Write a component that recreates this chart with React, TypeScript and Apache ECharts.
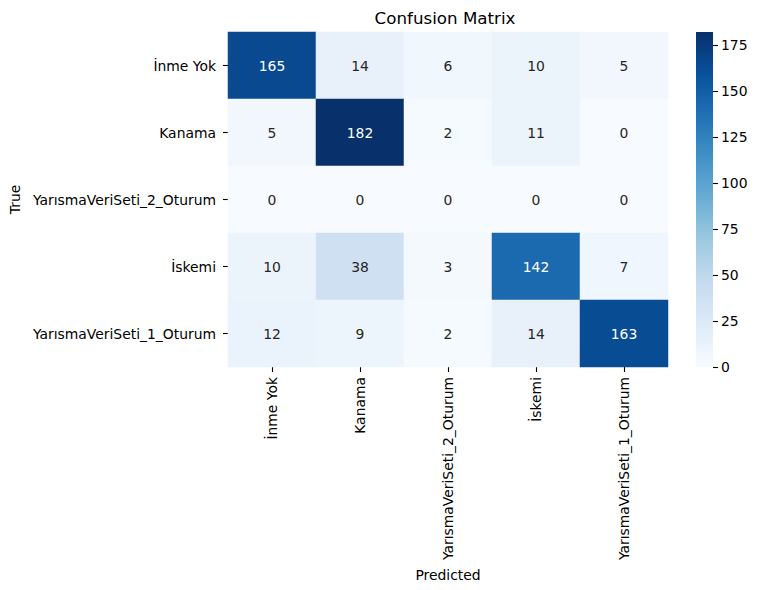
import React, { useEffect, useRef } from "react";
import * as echarts from "echarts";

const categories = ["İnme Yok", "Kanama", "YarısmaVeriSeti_2_Oturum", "İskemi", "YarısmaVeriSeti_1_Oturum"];
const matrix = [
  [165, 14, 6, 10, 5],
  [5, 182, 2, 11, 0],
  [0, 0, 0, 0, 0],
  [10, 38, 3, 142, 7],
  [12, 9, 2, 14, 163],
];
const colorbarTicks = [0, 25, 50, 75, 100, 125, 150, 175];
const vmin = 0;
const vmax = 182;
const blues = ["#f7fbff", "#deebf7", "#c6dbef", "#9ecae1", "#6baed6", "#4292c6", "#2171b5", "#08519c", "#08306b"];

const FONT = "DejaVu Sans";
const FS = 13.9;

export default function App() {
  const ref = useRef<HTMLDivElement>(null);
  useEffect(() => {
    if (!ref.current) return;
    const chart = echarts.init(ref.current, undefined, { renderer: "svg" });
    const data: any[] = [];
    matrix.forEach((row, r) => {
      row.forEach((v, c) => {
        data.push({
          value: [c, r, v],
          label: { color: v > 100 ? "#ffffff" : "#262626" },
        });
      });
    });
    chart.setOption({
      animation: false,
      textStyle: { fontFamily: FONT },
      graphic: [
        {
          type: "text",
          x: 445,
          y: 18,
          style: {
            text: "Confusion Matrix",
            fontSize: 16.7,
            fontFamily: FONT,
            fill: "#000",
            textAlign: "center",
            textVerticalAlign: "middle",
          },
        },
      ],
      grid: [
        { left: 222, top: 32, width: 446, height: 335 },
        { left: 696, top: 32, width: 17, height: 335 },
      ],
      xAxis: [
        {
          type: "category",
          gridIndex: 0,
          data: categories,
          position: "bottom",
          axisLine: { show: false },
          axisTick: { show: true, alignWithLabel: true, length: 5, lineStyle: { color: "#000", width: 1.1 } },
          axisLabel: { rotate: 90, margin: 10, fontSize: FS, color: "#000", fontFamily: FONT },
          splitLine: { show: false },
          name: "Predicted",
          nameLocation: "middle",
          nameGap: 195,
          nameTextStyle: { fontSize: FS, color: "#000", fontFamily: FONT },
        },
        {
          type: "category",
          gridIndex: 1,
          data: ["cb"],
          show: false,
        },
      ],
      yAxis: [
        {
          type: "category",
          gridIndex: 0,
          data: categories,
          inverse: true,
          axisLine: { show: false },
          axisTick: { show: true, alignWithLabel: true, length: 5, lineStyle: { color: "#000", width: 1.1 } },
          axisLabel: { margin: 12, fontSize: FS, color: "#000", fontFamily: FONT },
          splitLine: { show: false },
          name: "True",
          nameLocation: "middle",
          nameGap: 201,
          nameTextStyle: { fontSize: FS, color: "#000", fontFamily: FONT },
        },
        {
          type: "value",
          gridIndex: 1,
          min: vmin,
          max: vmax,
          position: "right",
          axisLine: { show: false },
          splitLine: { show: false },
          axisTick: {
            show: true,
            length: 5,
            customValues: colorbarTicks,
            lineStyle: { color: "#000", width: 1.1 },
          },
          axisLabel: {
            margin: 8,
            fontSize: FS,
            color: "#000",
            fontFamily: FONT,
            customValues: colorbarTicks,
          },
        },
      ],
      visualMap: {
        show: false,
        type: "continuous",
        min: vmin,
        max: vmax,
        seriesIndex: 0,
        dimension: 2,
        inRange: { color: blues },
      },
      series: [
        {
          type: "heatmap",
          xAxisIndex: 0,
          yAxisIndex: 0,
          data,
          label: { show: true, fontSize: FS, fontFamily: FONT },
          itemStyle: { borderWidth: 0 },
          emphasis: { disabled: true },
        },
        {
          type: "bar",
          xAxisIndex: 1,
          yAxisIndex: 1,
          data: [vmax],
          barWidth: "100%",
          silent: true,
          itemStyle: {
            color: new echarts.graphic.LinearGradient(
              0,
              1,
              0,
              0,
              blues.map((c, i) => ({ offset: i / (blues.length - 1), color: c }))
            ),
          },
        },
      ],
    });
    return () => chart.dispose();
  }, []);
  return (
    <div
      ref={ref}
      style={{ position: "fixed", left: 0, top: 0, width: 759, height: 590, background: "#fff" }}
    />
  );
}
